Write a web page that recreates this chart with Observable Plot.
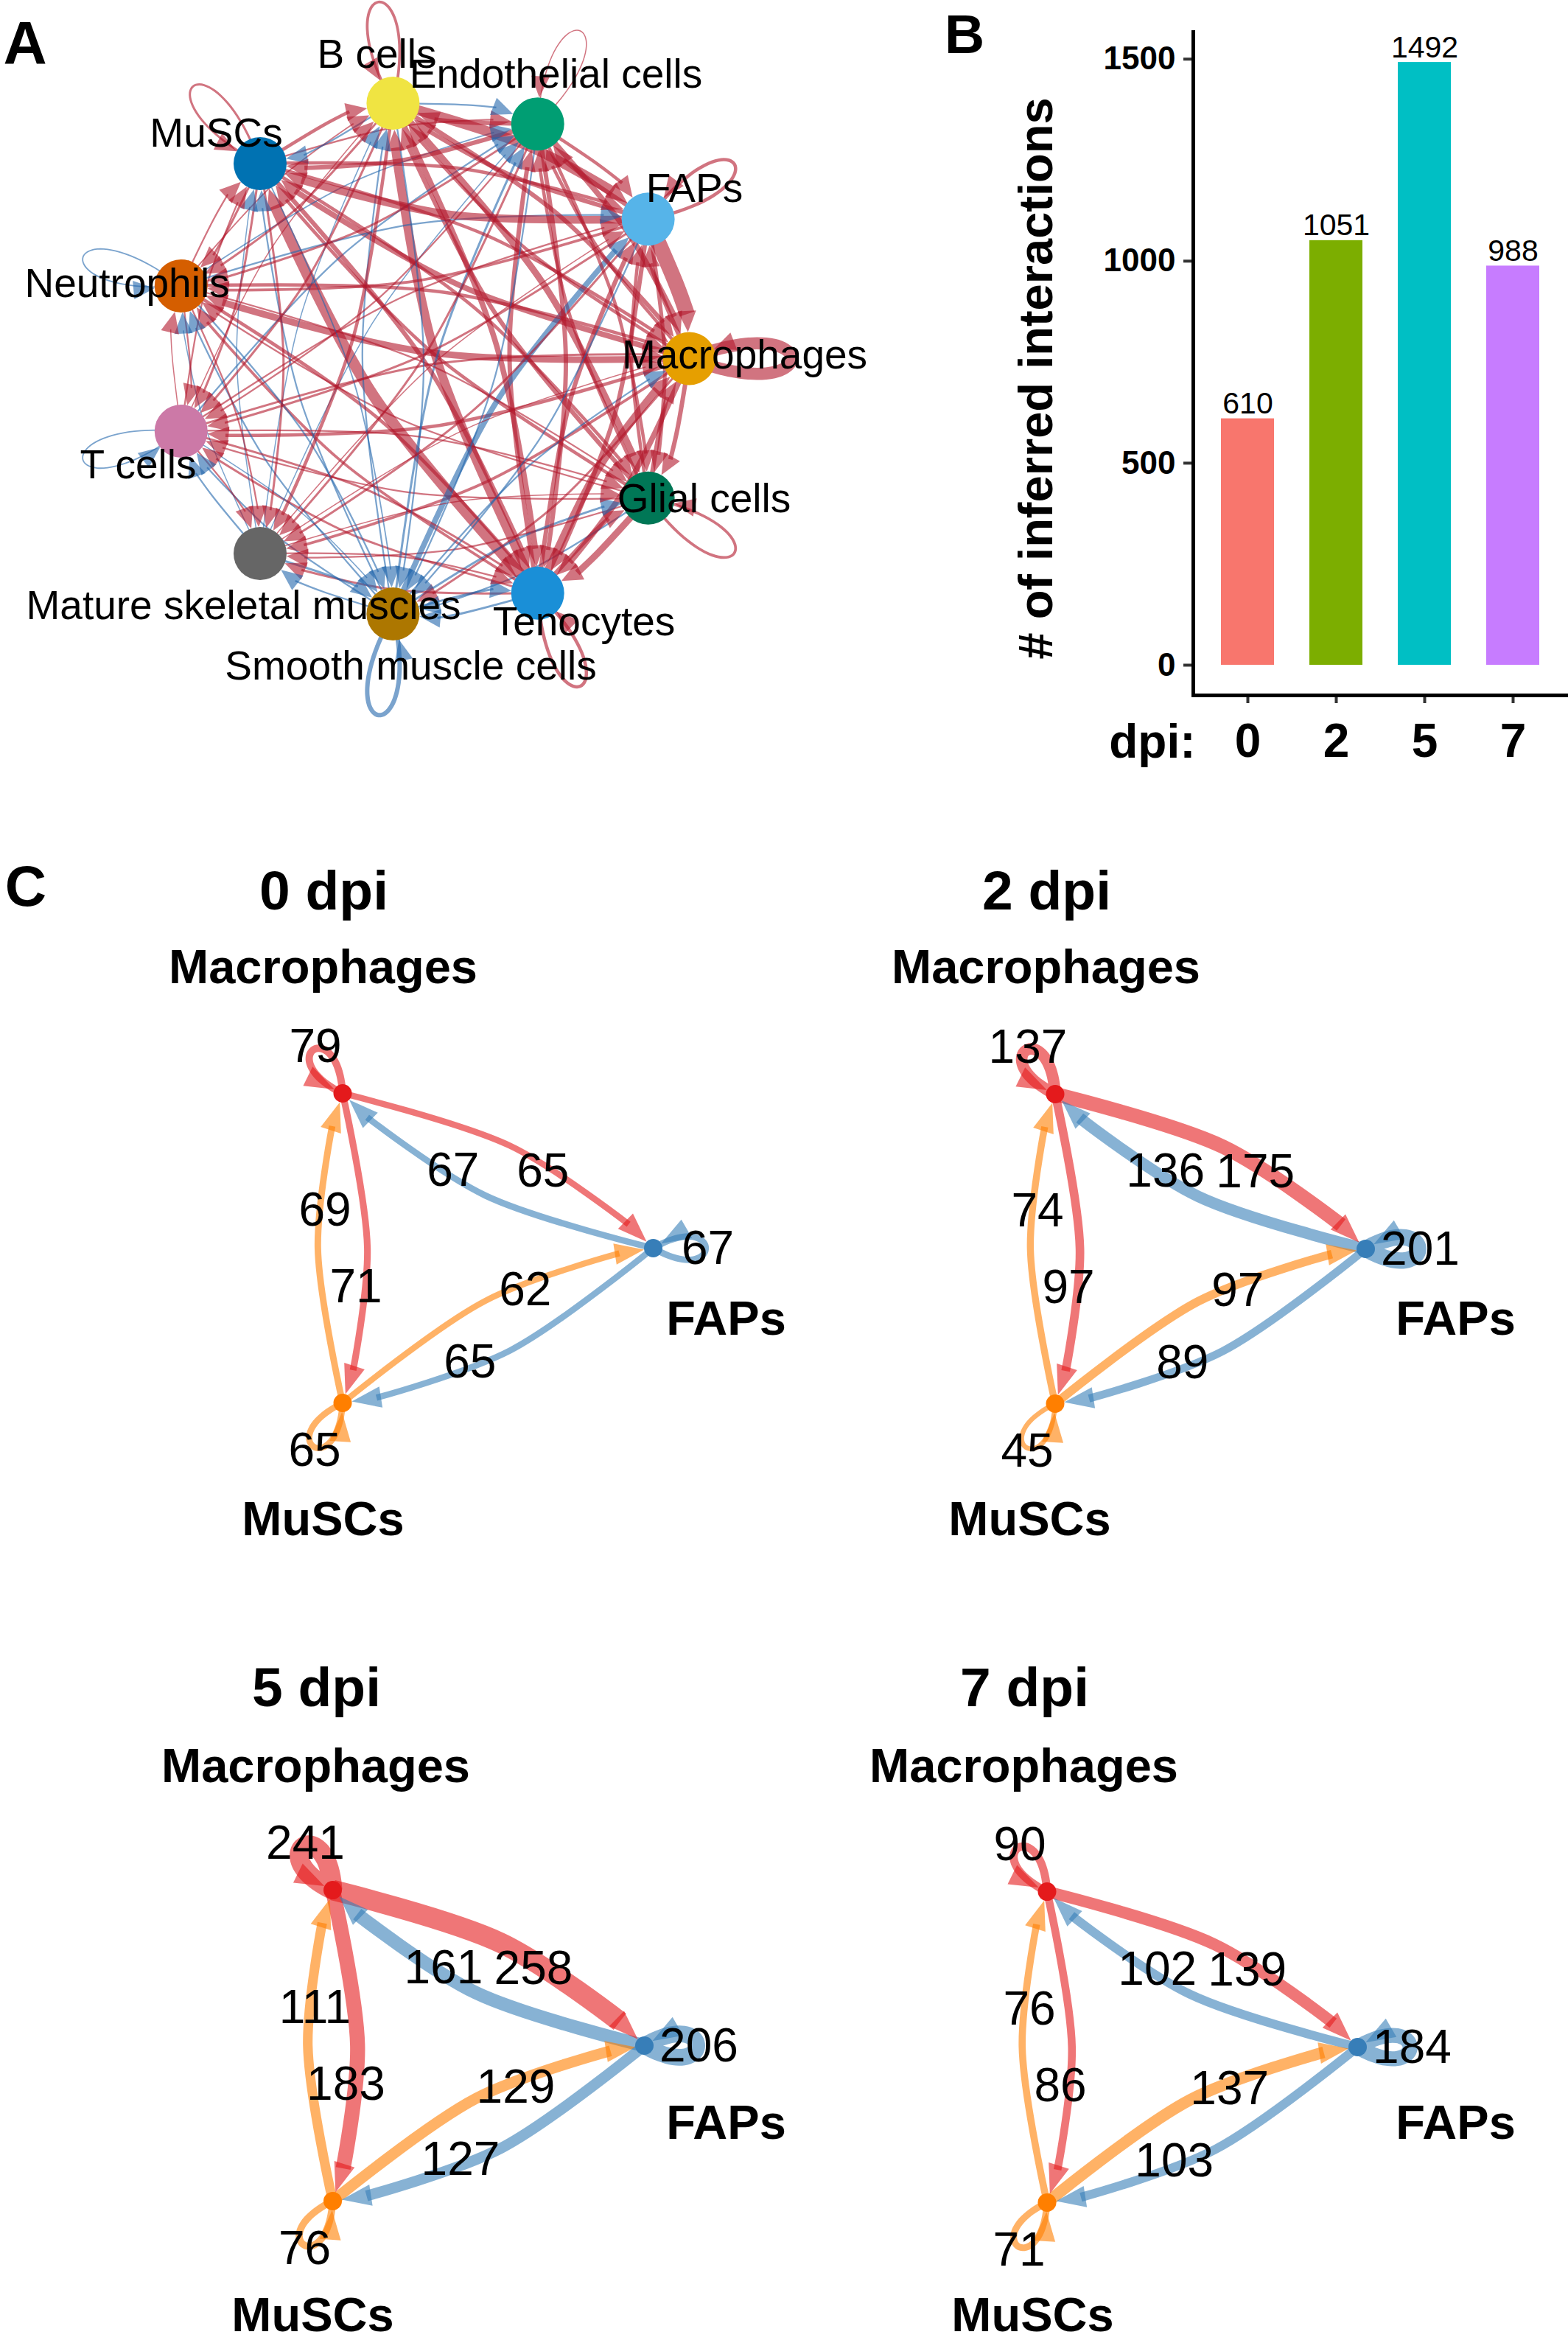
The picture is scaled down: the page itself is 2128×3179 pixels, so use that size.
<!DOCTYPE html>
<html><head><meta charset="utf-8">
<script src="https://cdn.jsdelivr.net/npm/d3@7"></script>
<script src="https://cdn.jsdelivr.net/npm/@observablehq/plot@0.6"></script>
<style>
html,body{margin:0;padding:0;background:#fff}
#page{position:relative;width:2128px;height:3179px;overflow:hidden;font-family:"Liberation Sans",Arial,sans-serif}
#page svg{position:absolute;overflow:visible;max-width:none}
.letter{position:absolute;font-weight:bold;color:#000;transform:translate(-50%,-50%);line-height:1}
</style></head><body><div id="page"></div>
<script>
// ---------- Panel A: cell types in circle order (clockwise from 3 o'clock)
const cellTypes = ["Macrophages","Glial cells","Tenocytes","Smooth muscle cells","Mature skeletal muscles","T cells","Neutrophils","MuSCs","B cells","Endothelial cells","FAPs"];
const cellColors = ["#E69F00","#007756","#1A8FD7","#AD7700","#666666","#CC79A7","#D55E00","#0072B2","#F0E442","#009E73","#56B4E9"];
// signed differential interaction strength, sender by row, receiver by column (+ increased, - decreased)
const fromMacrophages = [11, 4, 5, 2, 2.5, 3, 6, 5, 3, 3, 4];
const fromGlial       = [4, 2.5, 6, -1.5, 1.5, 1.5, 1.5, 3, 4, 3, 3];
const fromTenocytes   = [7, 4, 3, -2, 2, 2, 2.5, 10, 8, 4, 4];
const fromSmooth      = [-1.5, -2, -2, -4, -1.5, -1.5, -1.5, -1.5, -1.5, -2, -5];
const fromMature      = [1, 1, 1.5, -2, 0, -1.5, -1, -1, -1, -1, 1];
const fromTcells      = [2, 1.5, 2, -1, 1.5, -1.2, 1, 1.5, 1, -1.5, 1.5];
const fromNeutrophils = [3, 1.5, 3, -1.5, 1.5, 1.5, -1.2, 1.5, 1.2, -1.2, -1.5];
const fromMuSCs       = [3, 3, 4, -1.2, 2, 2, 2, 2, 3, 1.5, 3];
const fromBcells      = [4, 6, 5, -1.5, 3, 2, 2, -1.5, 2.5, -1.5, 9];
const fromEndothelial = [5, 3, 4, -1.5, 2, 1.5, 2, 4, 4, 1, 3];
const fromFAPs        = [14, 3.5, 4, -1.5, 2, 2, 2.5, 7, 4, 4, 3];
const strengthRows = [fromMacrophages,fromGlial,fromTenocytes,fromSmooth,fromMature,fromTcells,fromNeutrophils,fromMuSCs,fromBcells,fromEndothelial,fromFAPs];
const upColor = "#b2182b", downColor = "#2166ac";
// ---------- Panel B
const dpiLevels = ["0","2","5","7"];
const interactionTotals = [610,1051,1492,988];
const dpiColors = ["#F8766D","#7CAE00","#00BFC4","#C77CFF"];
// ---------- Panel C: sender by row, receiver by column; order FAPs, MuSCs, Macrophages
const trioNames = ["FAPs","MuSCs","Macrophages"];
const trioColors = ["#377EB8","#FF7F00","#E41A1C"];
const counts0 = [[67,65,67],[62,65,69],[65,71,79]];
const counts2 = [[201,89,136],[97,45,74],[175,97,137]];
const counts5 = [[206,127,161],[129,76,111],[258,183,241]];
const counts7 = [[184,103,102],[137,71,76],[139,86,90]];

const FONT = '"Liberation Sans",Arial,sans-serif';
const page = document.getElementById("page");
function place(svg,left,top){ svg.style.left=left+"px"; svg.style.top=top+"px"; page.appendChild(svg); }
function letter(t,x,y,size){ const d=document.createElement("div"); d.className="letter"; d.textContent=t; d.style.left=x+"px"; d.style.top=y+"px"; d.style.fontSize=size+"px"; page.appendChild(d); }

// slim arrowhead: r is half the base, tip points up, origin at the centroid
const arrowSymbol = ratio => ({ draw(ctx,size){ const r=Math.sqrt(size/Math.PI), L=r*ratio;
  ctx.moveTo(0,-L*2/3); ctx.lineTo(r,L/3); ctx.lineTo(-r,L/3); ctx.closePath(); } });

// geometry of a circular network, in pixel offsets then back to circle units
function network(n, edges, o){
  const P = i => { const a=2*Math.PI*i/n; return [Math.cos(a)*o.sx, Math.sin(a)*o.sy]; };
  const lines=[], heads=[];
  const L=o.arrowR*o.arrowRatio;
  const head=(T,t,color)=>{
    const tip=[T[0]-t[0]*o.nodeR, T[1]-t[1]*o.nodeR];
    heads.push({x:(tip[0]-t[0]*L*2/3)/o.sx, y:(tip[1]-t[1]*L*2/3)/o.sy, rotate:Math.atan2(t[0],-t[1])*180/Math.PI, color});
  };
  edges.forEach((e,id)=>{
    if(!e.width) return;
    const S=P(e.from), T=P(e.to);
    if(e.from===e.to){
      const R=Math.hypot(S[0],S[1]), u=[S[0]/R,S[1]/R], v=[u[1],-u[0]];
      const c1=[S[0]+o.loopD*u[0]-o.loopW*v[0], S[1]+o.loopD*u[1]-o.loopW*v[1]];
      const c2=[S[0]+o.loopD*u[0]+o.loopW*v[0], S[1]+o.loopD*u[1]+o.loopW*v[1]];
      for(let i=0;i<=24;i++){ const t=i/24,m=1-t;
        const X=m*m*m*S[0]+3*m*m*t*c1[0]+3*m*t*t*c2[0]+t*t*t*S[0];
        const Y=m*m*m*S[1]+3*m*m*t*c1[1]+3*m*t*t*c2[1]+t*t*t*S[1];
        lines.push({id,x:X/o.sx,y:Y/o.sy,color:e.color,width:e.width});
      }
      const d=[S[0]-c2[0],S[1]-c2[1]],l=Math.hypot(d[0],d[1]);
      head(S,[d[0]/l,d[1]/l],e.color);
    } else {
      const dx=T[0]-S[0],dy=T[1]-S[1],len=Math.hypot(dx,dy),lf=[dy/len,-dx/len];
      const mid=[(S[0]+T[0])/2+lf[0]*o.sag*len,(S[1]+T[1])/2+lf[1]*o.sag*len];
      const c=[(S[0]+T[0])/2+lf[0]*2*o.sag*len,(S[1]+T[1])/2+lf[1]*2*o.sag*len];
      const d=[T[0]-c[0],T[1]-c[1]],l=Math.hypot(d[0],d[1]),t=[d[0]/l,d[1]/l];
      const E=[T[0]-t[0]*(o.nodeR+L*0.85),T[1]-t[1]*(o.nodeR+L*0.85)];
      [S,mid,E].forEach(q=>lines.push({id,x:q[0]/o.sx,y:q[1]/o.sy,color:e.color,width:e.width}));
      head(T,t,e.color);
    }
  });
  return {lines,heads,nodes:d3.range(n).map(i=>{const p=P(i);return {x:p[0]/o.sx,y:p[1]/o.sy};})};
}
const netMarks=(g,colors,o)=>[
  Plot.line(g.lines,{x:"x",y:"y",z:"id",stroke:"color",strokeWidth:"width",strokeOpacity:0.6,curve:"catmull-rom",strokeLinecap:"butt"}),
  Plot.dot(g.heads,{x:"x",y:"y",r:o.arrowR,symbol:arrowSymbol(o.arrowRatio),rotate:"rotate",fill:"color",fillOpacity:0.6,stroke:"none"}),
  Plot.dot(g.nodes,{x:"x",y:"y",r:o.nodeR,fill:(d,i)=>colors[i],stroke:"none"})
];

// ---------- Panel A
(function(){
  const o={sx:352,sy:350,sag:0.06,nodeR:36,arrowR:12.5,arrowRatio:2.3,loopD:185,loopW:72};
  const edges=[];
  strengthRows.forEach((row,i)=>row.forEach((v,j)=>edges.push({from:i,to:j,width:Math.abs(v)*1.5,color:v>0?upColor:downColor})));
  const g=network(11,edges,o);
  const labelAt={"B cells":[511,74],"Endothelial cells":[754,101],"FAPs":[942,256],"Macrophages":[1010,482],"Glial cells":[955,677],"Tenocytes":[792,844],"Smooth muscle cells":[557,904],"Mature skeletal muscles":[330,822],"T cells":[187,631],"Neutrophils":[172,385],"MuSCs":[293,181]};
  const cx=583,cy=486;
  const labels=cellTypes.map(t=>({t,x:(labelAt[t][0]-cx)/o.sx,y:(labelAt[t][1]-cy)/o.sy}));
  place(Plot.plot({width:1260,height:1060,margin:0,style:{fontFamily:FONT,background:"transparent"},
    x:{domain:[-1,1],range:[cx-o.sx,cx+o.sx],axis:null},
    y:{domain:[-1,1],range:[cy-o.sy,cy+o.sy],axis:null},
    color:{type:"identity"},
    marks:[...netMarks(g,cellColors,o),
      Plot.text(labels,{x:"x",y:"y",text:"t",fontSize:55,fill:"#000",textAnchor:"middle",lineAnchor:"middle"})]
  }),0,0);
})();

// ---------- Panel B
(function(){
  const rows=dpiLevels.map((d,i)=>({d,v:interactionTotals[i],c:dpiColors[i]}));
  place(Plot.plot({width:868,height:1060,marginLeft:359,marginRight:2,marginTop:43,marginBottom:117,
    style:{fontFamily:FONT,background:"transparent",color:"#000"},
    x:{domain:dpiLevels,paddingInner:0.4,paddingOuter:0.3,axis:null},
    y:{domain:[-74.8,1567],axis:null},
    color:{type:"identity"},
    marks:[
      Plot.barY(rows,{x:"d",y1:0,y2:"v",fill:"c"}),
      Plot.text(rows,{x:"d",y:"v",text:d=>String(d.v),dy:-20,fontSize:41,fill:"#000",lineAnchor:"middle"}),
      Plot.axisY({ticks:[0,500,1000,1500],tickFormat:d=>String(d),tickSize:13,tickPadding:11,fontSize:44,fontWeight:"bold",label:null,strokeWidth:4,stroke:"#333",fill:"#000"}),
      Plot.axisX({tickSize:11,tickPadding:27,fontSize:64,fontWeight:"bold",label:null,strokeWidth:4,stroke:"#333",fill:"#000"}),
      Plot.frame({anchor:"left",stroke:"#000",strokeWidth:5}),
      Plot.frame({anchor:"bottom",stroke:"#000",strokeWidth:5}),
      Plot.text(["dpi:"],{frameAnchor:"bottom-left",textAnchor:"end",dx:3,dy:64,fontSize:64,fontWeight:"bold",fill:"#000",lineAnchor:"middle"}),
      Plot.text(["# of inferred interactions"],{frameAnchor:"left",textAnchor:"middle",dx:-212,dy:20,rotate:-90,fontSize:65,fontWeight:"bold",fill:"#000",lineAnchor:"middle"})
    ]
  }),1260,0);
})();

// ---------- Panel C
const trioPanels=[
 {title:"0 dpi",counts:counts0,left:0,top:1180,cx:605,cy:1693,rx:281,ry:242.5,titleAt:[439,1209],macAt:[438,1313],fapAt:[985,1790],musAt:[438,2062]},
 {title:"2 dpi",counts:counts2,left:1060,top:1180,cx:1572,cy:1694,rx:281,ry:242.5,titleAt:[1420,1209],macAt:[1419,1313],fapAt:[1975,1790],musAt:[1397,2062]},
 {title:"5 dpi",counts:counts5,left:0,top:2200,cx:592,cy:2775,rx:282,ry:243.5,titleAt:[429,2290],macAt:[428,2397],fapAt:[985,2881],musAt:[424,3142]},
 {title:"7 dpi",counts:counts7,left:1060,top:2200,cx:1561,cy:2777,rx:281,ry:243.5,titleAt:[1390,2290],macAt:[1389,2397],fapAt:[1975,2881],musAt:[1401,3142]}
];
// where each count label sits, px from the chord midpoint (or node for self loops), sender,receiver
const countNudge={"2,0":[61,1],"0,2":[-61,0],"2,1":[18,53],"1,2":[-24,-51],"1,0":[37,-48],"0,1":[-38,50],"2,2":[-37,-63],"0,0":[74,1],"1,1":[-38,65]};
trioPanels.forEach(p=>{
  const o={sx:p.rx,sy:p.ry,sag:0.08,nodeR:12.5,arrowR:14.5,arrowRatio:2.76,loopD:95,loopW:55};
  const edges=[];
  p.counts.forEach((row,i)=>row.forEach((v,j)=>edges.push({from:i,to:j,width:2+0.1*v,color:trioColors[i]})));
  const g=network(3,edges,o);
  const labels=[];
  p.counts.forEach((row,i)=>row.forEach((v,j)=>{
    const a=g.nodes[i],b=g.nodes[j],nd=countNudge[i+","+j];
    labels.push({t:String(v),x:(a.x+b.x)/2+nd[0]/p.rx,y:(a.y+b.y)/2+nd[1]/p.ry});
  }));
  const toX=v=>(v-p.cx)/p.rx,toY=v=>(v-p.cy)/p.ry;
  const heads=[["macAt","Macrophages"],["fapAt","FAPs"],["musAt","MuSCs"]].map(([k,t])=>({t,x:toX(p[k][0]),y:toY(p[k][1])}));
  place(Plot.plot({width:1068,height:979,margin:0,style:{fontFamily:FONT,background:"transparent"},
    x:{domain:[-1,1],range:[p.cx-p.rx-p.left,p.cx+p.rx-p.left],axis:null},
    y:{domain:[-1,1],range:[p.cy-p.ry-p.top,p.cy+p.ry-p.top],axis:null},
    color:{type:"identity"},
    marks:[...netMarks(g,trioColors,o),
      Plot.text(labels,{x:"x",y:"y",text:"t",fontSize:64,fill:"#000",lineAnchor:"middle"}),
      Plot.text(heads,{x:"x",y:"y",text:"t",fontSize:65,fontWeight:"bold",fill:"#000",lineAnchor:"middle"}),
      Plot.text([p.title],{x:toX(p.titleAt[0]),y:toY(p.titleAt[1]),text:d=>d,fontSize:75,fontWeight:"bold",fill:"#000",lineAnchor:"middle"})
    ]
  }),p.left,p.top);
});
letter("A",34,58,82);
letter("B",1309,46,75);
letter("C",35,1202,78);
</script></body></html>
